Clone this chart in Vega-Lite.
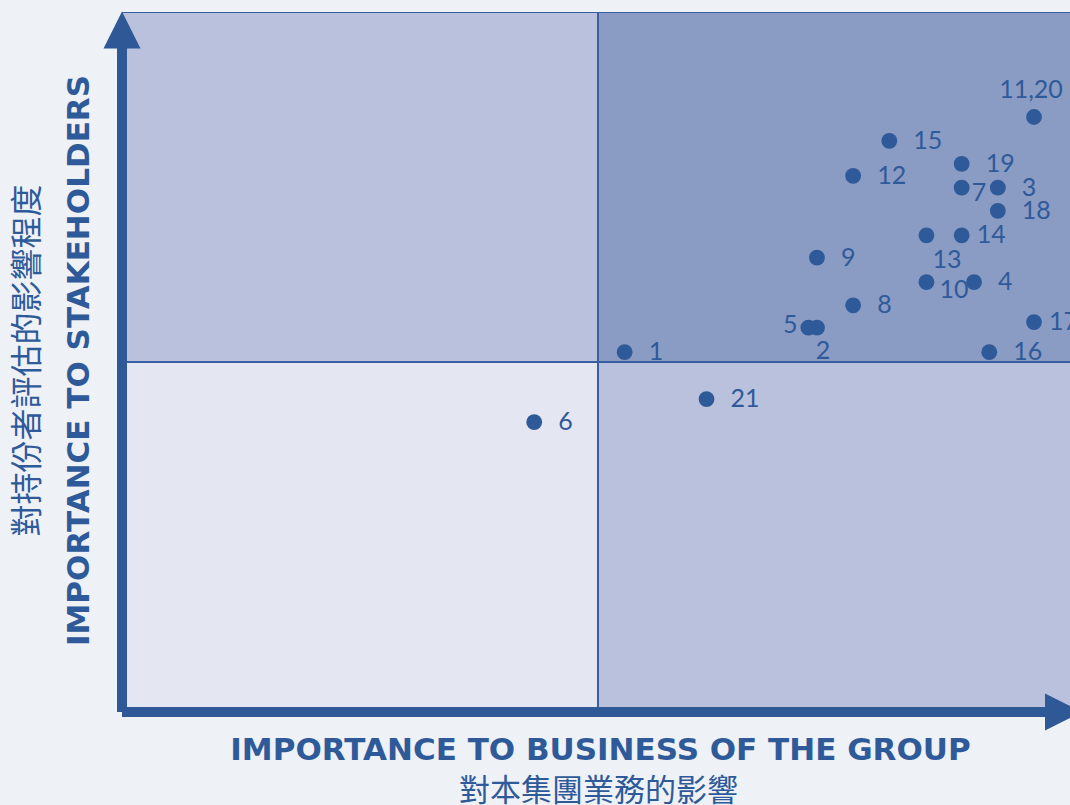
{
  "$schema": "https://vega.github.io/schema/vega-lite/v6.json",
  "width": 948,
  "height": 700,
  "autosize": {"type": "none"},
  "padding": {"left": 122, "top": 12, "right": 0, "bottom": 93},
  "background": "#eef1f6",
  "config": {
    "view": {"stroke": null},
    "axis": {"labels": false, "ticks": false, "domain": false, "grid": false, "titleColor": "#2f5a99"}
  },
  "datasets": {
    "quads": [
      {"q": "mid", "x": 0, "x2": 5, "y": 5, "y2": 10},
      {"q": "high", "x": 5, "x2": 10, "y": 5, "y2": 10},
      {"q": "low", "x": 0, "x2": 5, "y": 0, "y2": 5},
      {"q": "mid", "x": 5, "x2": 10, "y": 0, "y2": 5}
    ],
    "thin": [
      {"x": 0, "x2": 10, "y": 10, "y2": 10},
      {"x": 5, "x2": 5, "y": 0, "y2": 10},
      {"x": 0, "x2": 10, "y": 5, "y2": 5}
    ],
    "thick": [
      {"x": 0, "x2": 0, "y": 0, "y2": 9.5},
      {"x": 0, "x2": 9.7, "y": 0, "y2": 0}
    ],
    "arrowUp": [{"x": 0, "y": 9.743}],
    "arrowRight": [{"x": 9.89, "y": 0}],
    "pts": [
      {"id": "1", "x": 5.28, "y": 5.14, "pos": "r"},
      {"id": "2", "x": 7.30, "y": 5.49, "pos": "b"},
      {"id": "3", "x": 9.20, "y": 7.49, "pos": "r"},
      {"id": "4", "x": 8.95, "y": 6.14, "pos": "r"},
      {"id": "5", "x": 7.21, "y": 5.49, "pos": "l"},
      {"id": "6", "x": 4.33, "y": 4.14, "pos": "r"},
      {"id": "7", "x": 8.82, "y": 7.49, "pos": "rs"},
      {"id": "8", "x": 7.68, "y": 5.81, "pos": "r"},
      {"id": "9", "x": 7.30, "y": 6.49, "pos": "r"},
      {"id": "10", "x": 8.45, "y": 6.14, "pos": "rb"},
      {"id": "11,20", "x": 9.58, "y": 8.50, "pos": "t"},
      {"id": "12", "x": 7.68, "y": 7.66, "pos": "r"},
      {"id": "13", "x": 8.45, "y": 6.81, "pos": "br"},
      {"id": "14", "x": 8.82, "y": 6.81, "pos": "rn"},
      {"id": "15", "x": 8.06, "y": 8.16, "pos": "r"},
      {"id": "16", "x": 9.11, "y": 5.14, "pos": "r"},
      {"id": "17", "x": 9.58, "y": 5.57, "pos": "rn"},
      {"id": "18", "x": 9.20, "y": 7.16, "pos": "r"},
      {"id": "19", "x": 8.82, "y": 7.83, "pos": "r"},
      {"id": "21", "x": 6.14, "y": 4.47, "pos": "r"}
    ]
  },
  "resolve": {"axis": {"x": "independent", "y": "independent"}},
  "layer": [
    {
      "data": {"name": "quads"},
      "mark": {"type": "rect", "clip": true},
      "encoding": {
        "x": {"field": "x", "type": "quantitative", "scale": {"domain": [0, 9.958], "nice": false, "zero": false},
              "axis": {"orient": "bottom", "title": "IMPORTANCE TO BUSINESS OF THE GROUP", "titleFont": "DejaVu Sans", "titleFontWeight": "bold", "titleFontSize": 31, "titleBaseline": "alphabetic", "titleY": 47, "titleX": 478, "titleAnchor": "middle"}},
        "x2": {"field": "x2"},
        "y": {"field": "y", "type": "quantitative", "scale": {"domain": [0, 10], "nice": false, "zero": false},
              "axis": {"orient": "left", "title": "IMPORTANCE TO STAKEHOLDERS", "titleFont": "DejaVu Sans", "titleFontWeight": "bold", "titleFontSize": 31, "titleBaseline": "alphabetic", "titleAngle": -90, "titleX": -34, "titleY": 348, "titleAnchor": "middle"}},
        "y2": {"field": "y2"},
        "color": {"field": "q", "type": "nominal", "legend": null,
                  "scale": {"domain": ["low", "mid", "high"], "range": ["#e4e7f1", "#b9c1dc", "#8a9bc4"]}}
      }
    },
    {
      "data": {"name": "thin"},
      "mark": {"type": "rule", "color": "#3a5fa0", "strokeWidth": 2, "clip": true},
      "encoding": {
        "x": {"field": "x", "type": "quantitative", "axis": null},
        "x2": {"field": "x2"},
        "y": {"field": "y", "type": "quantitative", "axis": null},
        "y2": {"field": "y2"}
      }
    },
    {
      "data": {"name": "thick"},
      "mark": {"type": "rule", "color": "#2f5896", "strokeWidth": 10, "strokeCap": "butt"},
      "encoding": {
        "x": {"field": "x", "type": "quantitative", "axis": null},
        "x2": {"field": "x2"},
        "y": {"field": "y", "type": "quantitative", "axis": null},
        "y2": {"field": "y2"}
      }
    },
    {
      "data": {"name": "arrowUp"},
      "mark": {"type": "point", "shape": "M0,-1L-1,1L1,1Z", "size": 1369, "filled": true, "color": "#2f5896", "opacity": 1, "strokeWidth": 0},
      "encoding": {
        "x": {"field": "x", "type": "quantitative", "axis": null},
        "y": {"field": "y", "type": "quantitative", "axis": null}
      }
    },
    {
      "data": {"name": "arrowRight"},
      "mark": {"type": "point", "shape": "M1,0L-1,-1L-1,1Z", "size": 1369, "filled": true, "color": "#2f5896", "opacity": 1, "strokeWidth": 0},
      "encoding": {
        "x": {"field": "x", "type": "quantitative", "axis": null},
        "y": {"field": "y", "type": "quantitative", "axis": null}
      }
    },
    {
      "data": {"name": "pts"},
      "mark": {"type": "circle", "size": 250, "color": "#2f5a99", "opacity": 1},
      "encoding": {
        "x": {"field": "x", "type": "quantitative",
              "axis": {"orient": "bottom", "title": "對本集團業務的影響", "titleFont": "Noto Sans CJK TC", "titleFontWeight": "normal", "titleFontSize": 31, "titleBaseline": "alphabetic", "titleY": 88, "titleX": 476, "titleAnchor": "middle"}},
        "y": {"field": "y", "type": "quantitative",
              "axis": {"orient": "left", "title": "對持份者評估的影響程度", "titleFont": "Noto Sans CJK TC", "titleFontWeight": "normal", "titleFontSize": 32, "titleBaseline": "alphabetic", "titleAngle": -90, "titleX": -85, "titleY": 348, "titleAnchor": "middle"}}
      }
    },
    {
      "data": {"name": "pts"},
      "transform": [{"filter": "datum.pos == 'r'"}],
      "mark": {"type": "text", "align": "left", "baseline": "middle", "dx": 24, "dy": 0, "font": "Lato", "fontSize": 25, "color": "#2f5a99"},
      "encoding": {"x": {"field": "x", "type": "quantitative", "axis": null}, "y": {"field": "y", "type": "quantitative", "axis": null}, "text": {"field": "id"}}
    },
    {
      "data": {"name": "pts"},
      "transform": [{"filter": "datum.pos == 'rn'"}],
      "mark": {"type": "text", "align": "left", "baseline": "middle", "dx": 15, "dy": 0, "font": "Lato", "fontSize": 25, "color": "#2f5a99"},
      "encoding": {"x": {"field": "x", "type": "quantitative", "axis": null}, "y": {"field": "y", "type": "quantitative", "axis": null}, "text": {"field": "id"}}
    },
    {
      "data": {"name": "pts"},
      "transform": [{"filter": "datum.pos == 'rs'"}],
      "mark": {"type": "text", "align": "left", "baseline": "middle", "dx": 10, "dy": 5, "font": "Lato", "fontSize": 25, "color": "#2f5a99"},
      "encoding": {"x": {"field": "x", "type": "quantitative", "axis": null}, "y": {"field": "y", "type": "quantitative", "axis": null}, "text": {"field": "id"}}
    },
    {
      "data": {"name": "pts"},
      "transform": [{"filter": "datum.pos == 'rb'"}],
      "mark": {"type": "text", "align": "left", "baseline": "middle", "dx": 13, "dy": 8, "font": "Lato", "fontSize": 25, "color": "#2f5a99"},
      "encoding": {"x": {"field": "x", "type": "quantitative", "axis": null}, "y": {"field": "y", "type": "quantitative", "axis": null}, "text": {"field": "id"}}
    },
    {
      "data": {"name": "pts"},
      "transform": [{"filter": "datum.pos == 'br'"}],
      "mark": {"type": "text", "align": "left", "baseline": "middle", "dx": 6, "dy": 25, "font": "Lato", "fontSize": 25, "color": "#2f5a99"},
      "encoding": {"x": {"field": "x", "type": "quantitative", "axis": null}, "y": {"field": "y", "type": "quantitative", "axis": null}, "text": {"field": "id"}}
    },
    {
      "data": {"name": "pts"},
      "transform": [{"filter": "datum.pos == 'l'"}],
      "mark": {"type": "text", "align": "right", "baseline": "middle", "dx": -11, "dy": -3, "font": "Lato", "fontSize": 25, "color": "#2f5a99"},
      "encoding": {"x": {"field": "x", "type": "quantitative", "axis": null}, "y": {"field": "y", "type": "quantitative", "axis": null}, "text": {"field": "id"}}
    },
    {
      "data": {"name": "pts"},
      "transform": [{"filter": "datum.pos == 'b'"}],
      "mark": {"type": "text", "align": "center", "baseline": "middle", "dx": 6, "dy": 23, "font": "Lato", "fontSize": 25, "color": "#2f5a99"},
      "encoding": {"x": {"field": "x", "type": "quantitative", "axis": null}, "y": {"field": "y", "type": "quantitative", "axis": null}, "text": {"field": "id"}}
    },
    {
      "data": {"name": "pts"},
      "transform": [{"filter": "datum.pos == 't'"}],
      "mark": {"type": "text", "align": "center", "baseline": "middle", "dx": -3, "dy": -27, "font": "Lato", "fontSize": 25, "color": "#2f5a99"},
      "encoding": {"x": {"field": "x", "type": "quantitative", "axis": null}, "y": {"field": "y", "type": "quantitative", "axis": null}, "text": {"field": "id"}}
    }
  ]
}
